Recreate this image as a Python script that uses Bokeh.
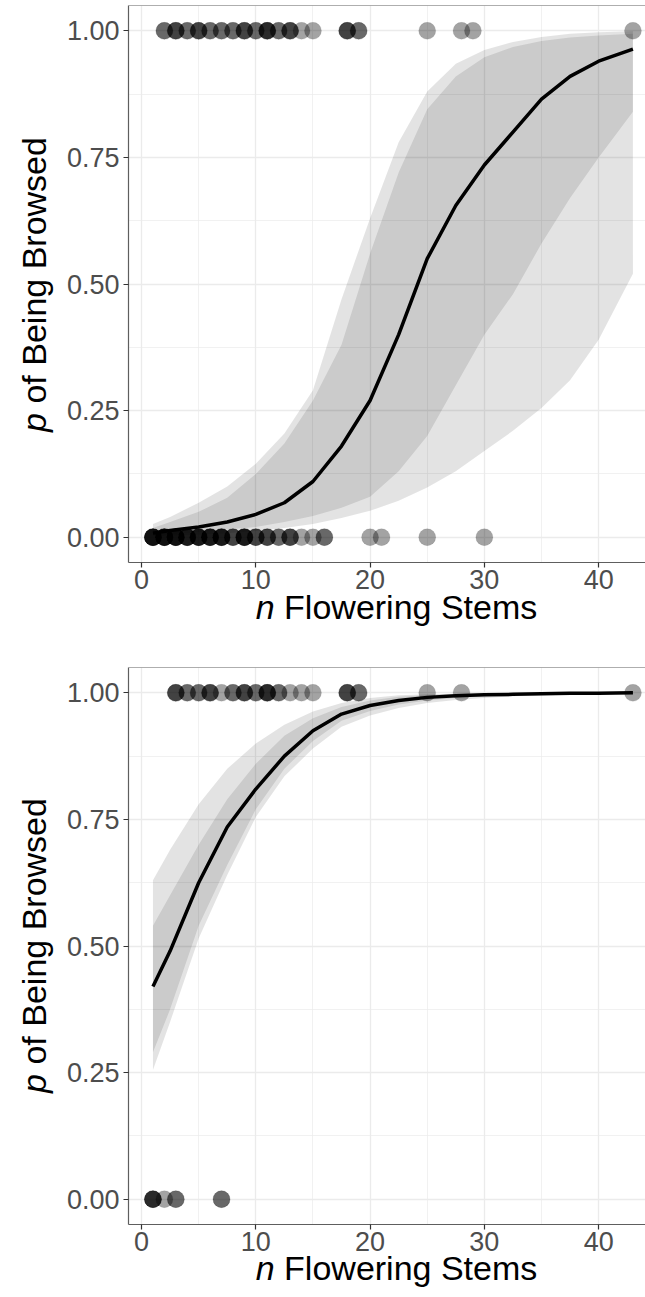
import math
from bokeh.plotting import figure
from bokeh.models import Range1d, FixedTicker, Label, Span
from bokeh.layouts import column
from bokeh.embed import file_html
from bokeh.resources import INLINE

# ---------------- data ----------------
x_grid = [1, 2.5, 5, 7.5, 10, 12.5, 15, 17.5, 20, 22.5, 25, 27.5, 30, 32.5, 35, 37.5, 40, 43]

top_fit      = [0.008, 0.013, 0.020, 0.030, 0.045, 0.068, 0.110, 0.180, 0.270, 0.400, 0.550, 0.655, 0.735, 0.800, 0.865, 0.910, 0.940, 0.964]
top_outer_hi = [0.026, 0.040, 0.068, 0.100, 0.145, 0.205, 0.290, 0.470, 0.630, 0.780, 0.880, 0.935, 0.962, 0.978, 0.988, 0.994, 0.997, 0.999]
top_inner_hi = [0.018, 0.030, 0.050, 0.078, 0.125, 0.185, 0.270, 0.380, 0.560, 0.720, 0.845, 0.910, 0.948, 0.968, 0.980, 0.987, 0.991, 0.994]
top_inner_lo = [0.004, 0.006, 0.010, 0.015, 0.020, 0.030, 0.042, 0.058, 0.080, 0.130, 0.200, 0.300, 0.400, 0.480, 0.580, 0.670, 0.750, 0.840]
top_outer_lo = [0.002, 0.003, 0.005, 0.008, 0.012, 0.018, 0.026, 0.038, 0.052, 0.072, 0.098, 0.130, 0.170, 0.210, 0.255, 0.310, 0.390, 0.520]

bot_fit      = [0.420, 0.490, 0.625, 0.735, 0.810, 0.875, 0.925, 0.958, 0.975, 0.985, 0.991, 0.994, 0.996, 0.997, 0.998, 0.999, 0.999, 1.000]
bot_outer_hi = [0.630, 0.690, 0.780, 0.850, 0.900, 0.937, 0.963, 0.980, 0.990, 0.995, 0.997, 0.998, 0.999, 0.999, 1.000, 1.000, 1.000, 1.000]
bot_inner_hi = [0.540, 0.600, 0.700, 0.790, 0.860, 0.915, 0.950, 0.972, 0.985, 0.992, 0.995, 0.997, 0.998, 0.999, 0.999, 1.000, 1.000, 1.000]
bot_inner_lo = [0.290, 0.375, 0.540, 0.660, 0.770, 0.850, 0.905, 0.945, 0.964, 0.977, 0.985, 0.990, 0.993, 0.995, 0.997, 0.998, 0.998, 0.999]
bot_outer_lo = [0.255, 0.350, 0.515, 0.640, 0.755, 0.835, 0.890, 0.933, 0.955, 0.970, 0.980, 0.986, 0.990, 0.993, 0.995, 0.996, 0.997, 0.998]

# observed points: stems value and number of overlapping observations
top_browsed_x   = [2, 3, 4, 5, 6, 7, 8, 9, 10, 11, 12, 13, 14, 15, 18, 19, 25, 28, 29, 43]
top_browsed_n   = [2, 3, 2, 3, 2, 2, 2, 3, 2, 4, 2, 3, 1, 1, 3, 2, 1, 1, 1, 1]
top_unbrowsed_x = [1, 2, 3, 4, 5, 6, 7, 8, 9, 10, 11, 12, 13, 14, 15, 16, 20, 21, 25, 30]
top_unbrowsed_n = [6, 6, 6, 5, 5, 5, 5, 3, 5, 3, 3, 2, 3, 1, 1, 2, 1, 1, 1, 1]

bot_browsed_x   = [3, 4, 5, 6, 7, 8, 9, 10, 11, 12, 13, 14, 15, 18, 19, 25, 28, 43]
bot_browsed_n   = [3, 2, 2, 3, 1, 2, 3, 2, 4, 2, 1, 1, 1, 3, 2, 1, 1, 1]
bot_unbrowsed_x = [1, 2, 3, 7]
bot_unbrowsed_n = [4, 1, 2, 2]

x_ticks = [0, 10, 20, 30, 40]
x_minor = [5, 15, 25, 35, 45]
y_ticks = [0, 0.25, 0.5, 0.75, 1.0]
y_minor = [0.125, 0.375, 0.625, 0.875]
y_tick_labels = ["0.00", "0.25", "0.50", "0.75", "1.00"]

x_title_it, x_title_rest = "n", "Flowering Stems"
y_title_it, y_title_rest = "p", "of Being Browsed"

# ---------------- styling ----------------
FONT = "Liberation Sans"
TICK_FS = 27
TITLE_FS = 34
X_START, X_END = -1.14, 44.1
Y_START, Y_END = -0.05, 1.05
FRAME_W, FRAME_H = 517, 558
LEFT = 128


def expand(xs, ns):
    out = []
    for x, n in zip(xs, ns):
        out += [x] * n
    return out


def make_panel(fit, ohi, olo, ihi, ilo, bx, bn, ux, un, height, top_b, bot_b, p_side):
    p = figure(width=645, height=height, output_backend="svg", toolbar_location=None,
               x_range=Range1d(X_START, X_END), y_range=Range1d(Y_START, Y_END),
               min_border_left=LEFT, min_border_right=0,
               min_border_top=top_b, min_border_bottom=bot_b)
    p.outline_line_color = None
    p.background_fill_color = "white"
    p.border_fill_color = "white"

    p.xaxis.ticker = FixedTicker(ticks=x_ticks, minor_ticks=x_minor)
    p.yaxis.ticker = FixedTicker(ticks=y_ticks, minor_ticks=y_minor)
    p.yaxis.major_label_overrides = {t: s for t, s in zip(y_ticks, y_tick_labels)}
    for ax in (p.xaxis, p.yaxis):
        ax.axis_line_color = "#5e5e5e"
        ax.axis_line_width = 1.2
        ax.major_tick_line_color = "#333333"
        ax.major_tick_line_width = 1.2
        ax.major_tick_out = 5
        ax.major_tick_in = 0
        ax.minor_tick_line_color = None
        ax.major_label_text_font = FONT
        ax.major_label_text_font_size = f"{TICK_FS}px"
        ax.major_label_text_color = "#4d4d4d"
    p.xaxis.major_label_standoff = 2
    p.yaxis.major_label_standoff = 4

    for g in (p.xgrid, p.ygrid):
        g.grid_line_color = "#ebebeb"
        g.grid_line_width = 1.3
        g.minor_grid_line_color = "#ebebeb"
        g.minor_grid_line_width = 0.7

    p.add_layout(Span(location=Y_END, dimension="width", line_color="#5e5e5e", line_width=1.2))

    p.varea(x=x_grid, y1=olo, y2=ohi, fill_color="black", fill_alpha=0.11)
    p.varea(x=x_grid, y1=ilo, y2=ihi, fill_color="black", fill_alpha=0.105)

    xs1 = expand(bx, bn)
    xs0 = expand(ux, un)
    p.scatter(xs1, [1.0] * len(xs1), size=17, fill_color="black", fill_alpha=0.36,
              line_color="black", line_alpha=0.08)
    p.scatter(xs0, [0.0] * len(xs0), size=17, fill_color="black", fill_alpha=0.36,
              line_color="black", line_alpha=0.08)

    p.line(x_grid, fit, line_width=3.5, line_color="black")

    # Axis titles drawn as Labels in canvas units (origin top-left); they sit in
    # side panels so that they are not clipped to the plotting frame.
    frame_bottom = top_b + FRAME_H
    cx = 396
    total = 8.28 * TITLE_FS
    sx0 = cx - total / 2
    sy = frame_bottom + 43
    common = dict(x_units="canvas", y_units="canvas", text_font=FONT,
                  text_font_size=f"{TITLE_FS}px", text_align="left",
                  text_baseline="middle", text_color="black")
    p.add_layout(Label(x=sx0 + 0.834 * TITLE_FS, y=sy, text=x_title_rest, **common), "below")
    p.add_layout(Label(x=sx0, y=sy, text=x_title_it, text_font_style="italic", **common), "left")

    cy = top_b + FRAME_H / 2
    ytotal = 8.671 * TITLE_FS
    sy0 = cy + ytotal / 2
    tx = 33
    p.add_layout(Label(x=tx, y=sy0 - 0.834 * TITLE_FS, text=y_title_rest, angle=math.pi / 2,
                       **common), "left")
    p.add_layout(Label(x=tx, y=sy0, text=y_title_it, angle=math.pi / 2,
                       text_font_style="italic", **common), p_side)
    return p


p1 = make_panel(top_fit, top_outer_hi, top_outer_lo, top_inner_hi, top_inner_lo,
                top_browsed_x, top_browsed_n, top_unbrowsed_x, top_unbrowsed_n,
                648, 5, 85, "below")
p2 = make_panel(bot_fit, bot_outer_hi, bot_outer_lo, bot_inner_hi, bot_inner_lo,
                bot_browsed_x, bot_browsed_n, bot_unbrowsed_x, bot_unbrowsed_n,
                649, 18, 73, "above")

layout = column(p1, p2, spacing=0)
open("out.html", "w").write(file_html(layout, INLINE))
